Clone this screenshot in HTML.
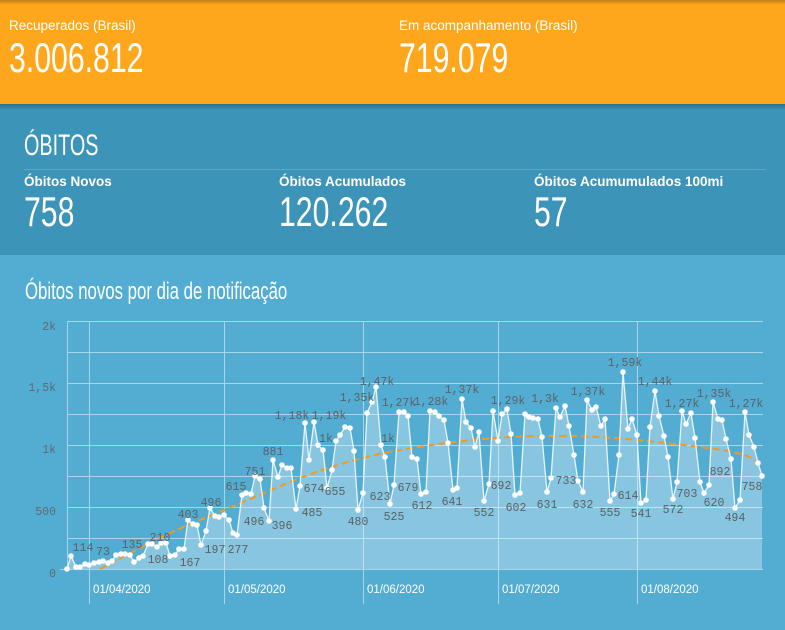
<!DOCTYPE html>
<html><head><meta charset="utf-8"><style>
html,body{margin:0;padding:0;width:785px;height:630px;overflow:hidden;background:#53add3}
svg{display:block}
</style></head><body>
<svg width="785" height="630" viewBox="0 0 785 630" xmlns="http://www.w3.org/2000/svg" font-family="Liberation Sans, sans-serif">
<defs><linearGradient id="sh" x1="0" y1="0" x2="0" y2="1"><stop offset="0" stop-color="#000" stop-opacity="0.25"/><stop offset="1" stop-color="#000" stop-opacity="0"/></linearGradient>
<marker id="dot" viewBox="0 0 6 6" refX="3" refY="3" markerWidth="6" markerHeight="6" markerUnits="userSpaceOnUse"><circle cx="3" cy="3" r="2.8" fill="#fff"/></marker>
</defs>
<rect x="0" y="0" width="785" height="104" fill="#fea71d"/>
<rect x="0" y="0" width="785" height="5" fill="url(#sh)"/>
<rect x="0" y="104" width="785" height="151" fill="#3c94b8"/>
<rect x="0" y="104" width="785" height="6" fill="url(#sh)"/>
<rect x="0" y="255" width="785" height="375" fill="#53add3"/>
<g fill="#fff">
<text x="9" y="30" font-size="13.5">Recuperados (Brasil)</text>
<text x="399" y="30" font-size="13.5">Em acompanhamento (Brasil)</text>
<text transform="translate(9,72) scale(0.72,1)" font-size="42">3.006.812</text>
<text transform="translate(399,72) scale(0.72,1)" font-size="42">719.079</text>
<text transform="translate(24,155) scale(0.66,1)" font-size="30">ÓBITOS</text>
<text x="24" y="186" font-size="13.5" font-weight="bold">Óbitos Novos</text>
<text x="279" y="186" font-size="13.5" font-weight="bold">Óbitos Acumulados</text>
<text x="534" y="186" font-size="13.5" font-weight="bold">Óbitos Acumumulados 100mi</text>
<text transform="translate(24,226) scale(0.72,1)" font-size="42">758</text>
<text transform="translate(279,226) scale(0.72,1)" font-size="42">120.262</text>
<text transform="translate(534,226) scale(0.72,1)" font-size="42">57</text>
<text transform="translate(25,299) scale(0.7,1)" font-size="24">Óbitos novos por dia de notificação</text>
</g>
<line x1="24" y1="169.5" x2="766" y2="169.5" stroke="#5aa8c8" stroke-width="1"/>
<g stroke="#a9d5e8" stroke-width="1">
<line x1="67" y1="321.5" x2="763" y2="321.5"/><line x1="67" y1="352.5" x2="763" y2="352.5"/><line x1="67" y1="383.5" x2="763" y2="383.5"/><line x1="67" y1="414.5" x2="763" y2="414.5"/><line x1="67" y1="445.5" x2="763" y2="445.5"/><line x1="67" y1="476.5" x2="763" y2="476.5"/><line x1="67" y1="507.5" x2="763" y2="507.5"/><line x1="67" y1="538.5" x2="763" y2="538.5"/><line x1="60" y1="569.5" x2="763" y2="569.5"/>
<line x1="67.5" y1="321" x2="67.5" y2="569"/>
<line x1="89.5" y1="321" x2="89.5" y2="604"/><line x1="224.5" y1="321" x2="224.5" y2="604"/><line x1="363.5" y1="321" x2="363.5" y2="604"/><line x1="498.5" y1="321" x2="498.5" y2="604"/><line x1="637.5" y1="321" x2="637.5" y2="604"/>
</g>
<g fill="#5e6a70" font-family="Liberation Mono, monospace" font-size="11.5" text-anchor="end">
<text x="56" y="330">2k</text><text x="56" y="391">1,5k</text><text x="56" y="453">1k</text><text x="56" y="515">500</text><text x="56" y="577">0</text>
</g>
<g fill="#fff" font-size="11.5">
<text x="93" y="593">01/04/2020</text><text x="228" y="593">01/05/2020</text><text x="367" y="593">01/06/2020</text><text x="502" y="593">01/07/2020</text><text x="641" y="593">01/08/2020</text>
</g>
<polygon fill="#ffffff" fill-opacity="0.3" points="67,569 71,556 76,567 80,567 85,564 89,565 94,563 99,562 103,561 108,563 112,561 116,555 121,554 125,554 130,555 134,562 139,558 143,556 148,544 152,544 157,547 161,543 166,543 170,556 175,555 179,549 184,549 188,520 193,524 197,525 201,545 206,531 210,508 215,516 219,517 224,515 229,520 233,533 237,535 242,495 246,493 251,494 255,476 260,479 264,508 269,521 273,460 278,477 282,465 287,468 291,468 296,509 300,486 305,423 309,460 314,422 318,445 323,450 327,488 332,470 336,441 340,435 345,427 350,428 354,451 358,510 363,493 367,413 372,402 376,387 381,445 385,457 390,504 394,485 399,412 404,412 408,416 412,457 417,459 421,494 426,492 430,411 435,412 439,416 444,420 448,443 453,490 457,488 462,399 466,422 471,428 475,447 479,432 484,501 489,484 493,411 498,441 502,414 507,409 511,434 515,495 520,493 525,414 529,417 533,418 538,419 542,437 547,492 551,478 556,408 560,417 565,406 569,426 574,455 578,481 583,492 587,400 592,410 596,407 601,426 605,419 610,501 614,494 619,455 623,372 628,429 632,419 637,435 641,503 646,500 650,427 655,391 659,416 664,436 668,457 673,499 677,482 682,411 686,424 691,413 695,438 700,482 704,493 709,485 713,402 718,419 722,420 726,439 731,459 735,508 740,500 745,412 749,435 754,447 758,463 762,476 762,569"/>
<path d="M100,569 C140,548 170,532 200,520 S270,490 300,478 S370,455 400,450 S480,437 540,436 S640,440 700,447 S750,460 762,465" fill="none" stroke="#f39a1e" stroke-width="2" stroke-dasharray="7,4"/>
<polyline fill="none" stroke="#ffffff" stroke-opacity="0.85" stroke-width="1.3" marker-start="url(#dot)" marker-mid="url(#dot)" marker-end="url(#dot)" points="67,569 71,556 76,567 80,567 85,564 89,565 94,563 99,562 103,561 108,563 112,561 116,555 121,554 125,554 130,555 134,562 139,558 143,556 148,544 152,544 157,547 161,543 166,543 170,556 175,555 179,549 184,549 188,520 193,524 197,525 201,545 206,531 210,508 215,516 219,517 224,515 229,520 233,533 237,535 242,495 246,493 251,494 255,476 260,479 264,508 269,521 273,460 278,477 282,465 287,468 291,468 296,509 300,486 305,423 309,460 314,422 318,445 323,450 327,488 332,470 336,441 340,435 345,427 350,428 354,451 358,510 363,493 367,413 372,402 376,387 381,445 385,457 390,504 394,485 399,412 404,412 408,416 412,457 417,459 421,494 426,492 430,411 435,412 439,416 444,420 448,443 453,490 457,488 462,399 466,422 471,428 475,447 479,432 484,501 489,484 493,411 498,441 502,414 507,409 511,434 515,495 520,493 525,414 529,417 533,418 538,419 542,437 547,492 551,478 556,408 560,417 565,406 569,426 574,455 578,481 583,492 587,400 592,410 596,407 601,426 605,419 610,501 614,494 619,455 623,372 628,429 632,419 637,435 641,503 646,500 650,427 655,391 659,416 664,436 668,457 673,499 677,482 682,411 686,424 691,413 695,438 700,482 704,493 709,485 713,402 718,419 722,420 726,439 731,459 735,508 740,500 745,412 749,435 754,447 758,463 762,476"/>
<g fill="#5b6165" font-family="Liberation Mono, monospace" font-size="11.5" text-anchor="middle">
<text x="83" y="551">114</text><text x="103" y="555">73</text><text x="132" y="548">135</text><text x="160" y="541">210</text><text x="158" y="563">108</text><text x="190" y="566">167</text><text x="188" y="518">403</text><text x="211" y="506">496</text><text x="215" y="553">197</text><text x="238" y="553">277</text><text x="236" y="490">615</text><text x="255" y="475">751</text><text x="254" y="525">496</text><text x="282" y="529">396</text><text x="273" y="455">881</text><text x="292" y="419">1,18k</text><text x="314" y="492">674</text><text x="312" y="516">485</text><text x="329" y="419">1,19k</text><text x="326" y="442">1k</text><text x="335" y="495">655</text><text x="357" y="401">1,35k</text><text x="377" y="385">1,47k</text><text x="358" y="525">480</text><text x="380" y="500">623</text><text x="388" y="442">1k</text><text x="394" y="520">525</text>
<text x="399" y="406">1,27k</text><text x="408" y="491">679</text><text x="422" y="509">612</text><text x="431" y="405">1,28k</text><text x="452" y="505">641</text><text x="462" y="393">1,37k</text><text x="484" y="516">552</text><text x="501" y="489">692</text><text x="508" y="404">1,29k</text><text x="516" y="511">602</text><text x="547" y="508">631</text><text x="566" y="484">733</text><text x="545" y="402">1,3k</text><text x="588" y="395">1,37k</text><text x="583" y="508">632</text><text x="610" y="516">555</text><text x="628" y="499">614</text><text x="625" y="366">1,59k</text><text x="641" y="517">541</text><text x="655" y="385">1,44k</text><text x="673" y="513">572</text><text x="687" y="497">703</text><text x="682" y="407">1,27k</text><text x="714" y="506">620</text><text x="714" y="397">1,35k</text><text x="720" y="475">892</text><text x="735" y="521">494</text><text x="746" y="407">1,27k</text><text x="752" y="490">758</text>
</g>
</svg>
</body></html>
